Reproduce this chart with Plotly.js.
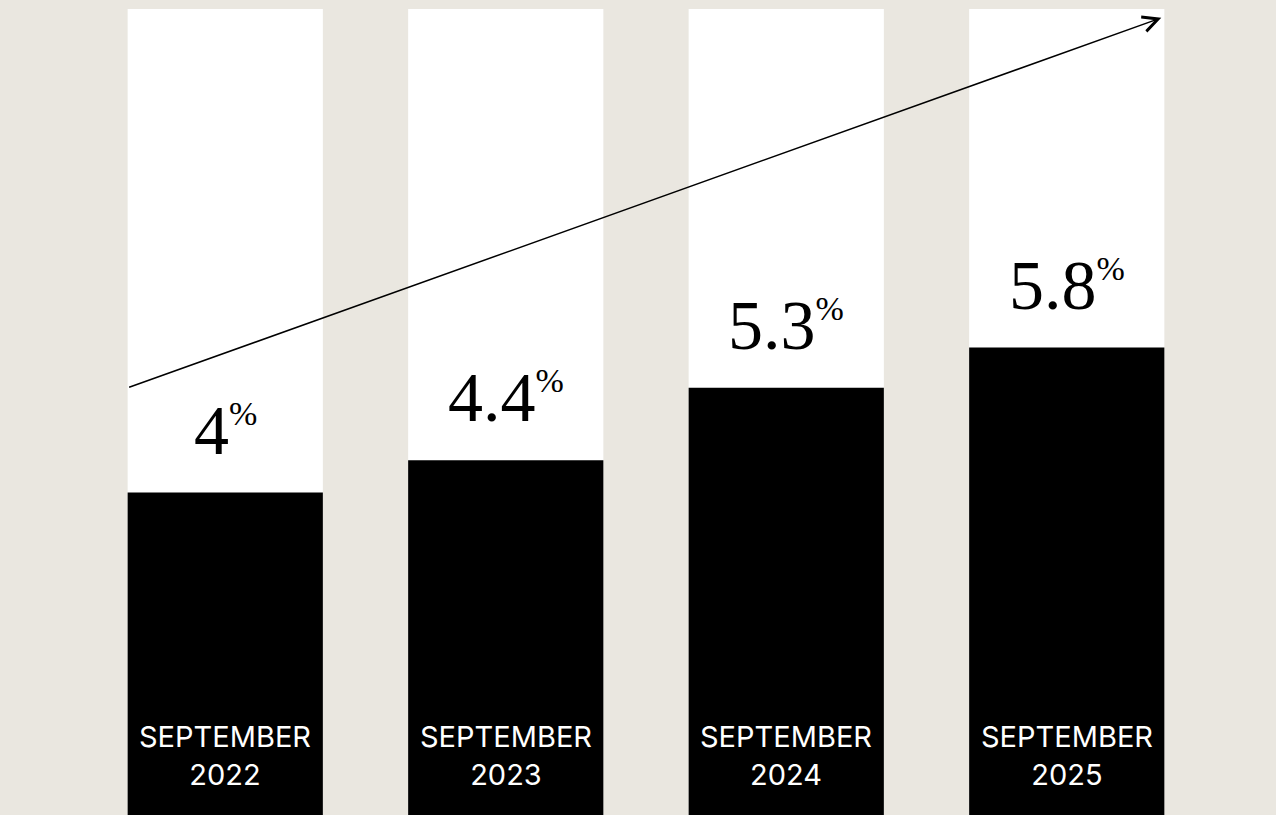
<!DOCTYPE html>
<html>
<head>
<meta charset="utf-8">
<script src="https://cdn.plot.ly/plotly-3.0.1.min.js"></script>
<style>
html,body{margin:0;padding:0;background:#EAE7E0;}
#chart{width:1276px;height:815px;}
</style>
</head>
<body>
<div id="chart"></div>
<script>
const categories = ["SEPTEMBER<br>2022", "SEPTEMBER<br>2023", "SEPTEMBER<br>2024", "SEPTEMBER<br>2025"];
const shareValues = [4, 4.4, 5.3, 5.8];
const valueLabels = ["4", "4.4", "5.3", "5.8"];
const scaleMax = 10;
const trackValues = [scaleMax, scaleMax, scaleMax, scaleMax];
// trend arrow (tail -> head) in data units
const trendTail = {x: -0.348, y: 5.3};
const trendHead = {x: 3.337, y: 9.89};

const xKeys = [0, 1, 2, 3];

const traces = [
  {type: 'bar', x: xKeys, y: trackValues, marker: {color: '#FFFFFF'}, hoverinfo: 'skip'},
  {type: 'bar', x: xKeys, y: shareValues, marker: {color: '#000000'}, hoverinfo: 'skip'}
];

const annotations = [];
xKeys.forEach((k, i) => {
  annotations.push({
    x: k, y: shareValues[i], xref: 'x', yref: 'y',
    xanchor: 'center', yanchor: 'bottom', yshift: 22,
    showarrow: false,
    text: valueLabels[i] + "<sup><span style='font-size:34px'>%</span></sup>",
    font: {family: 'Liberation Serif, DejaVu Serif, serif', size: 70, color: '#000000'}
  });
  annotations.push({
    x: k, y: 0, xref: 'x', yref: 'y',
    xanchor: 'center', yanchor: 'bottom', yshift: 21,
    showarrow: false,
    text: categories[i],
    font: {family: 'Inter, Roboto, sans-serif', size: 29, color: '#FFFFFF'}
  });
});
annotations.push({
  x: trendHead.x, y: trendHead.y, xref: 'x', yref: 'y',
  ax: trendTail.x, ay: trendTail.y, axref: 'x', ayref: 'y',
  text: '', showarrow: true, arrowhead: 5, arrowsize: 2, arrowwidth: 1.5,
  arrowcolor: '#000000', standoff: 0, startstandoff: 0
});

const layout = {
  width: 1276, height: 815,
  paper_bgcolor: '#EAE7E0', plot_bgcolor: 'rgba(0,0,0,0)',
  margin: {l: 85, r: 69, t: 9, b: 0, pad: 0},
  barmode: 'overlay', bargap: 0.304,
  showlegend: false, hovermode: false,
  xaxis: {range: [-0.5, 3.5], showgrid: false, zeroline: false, showticklabels: false, showline: false, fixedrange: true},
  yaxis: {range: [0, scaleMax], showgrid: false, zeroline: false, showticklabels: false, showline: false, fixedrange: true},
  annotations: annotations
};

Plotly.newPlot('chart', traces, layout, {displayModeBar: false, staticPlot: true});
</script>
</body>
</html>
